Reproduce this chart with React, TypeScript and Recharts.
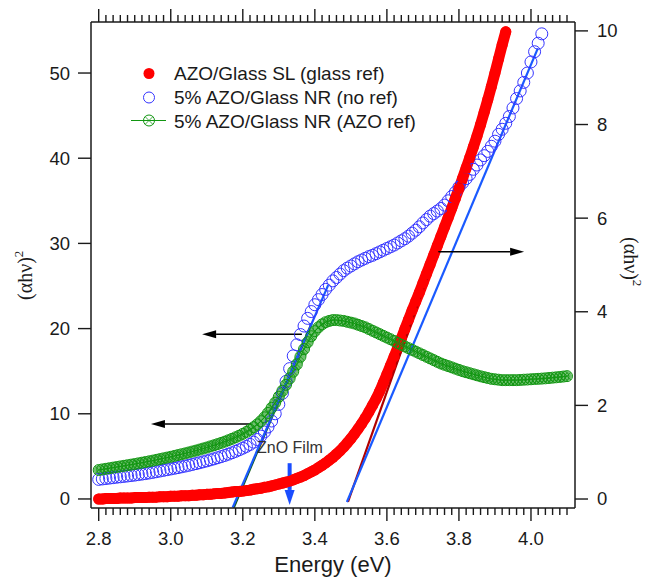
import React from "react";
import {
  ComposedChart,
  Line,
  XAxis,
  YAxis,
  ReferenceLine,
} from "recharts";

// photon energy grid (eV)
const energy = [
  2.8, 2.81, 2.82, 2.83, 2.84, 2.85, 2.86, 2.87, 2.88, 2.89,
  2.9, 2.91, 2.92, 2.93, 2.94, 2.95, 2.96, 2.97, 2.98, 2.99,
  3.0, 3.01, 3.02, 3.03, 3.04, 3.05, 3.06, 3.07, 3.08, 3.09,
  3.1, 3.11, 3.12, 3.13, 3.14, 3.15, 3.16, 3.17, 3.18, 3.19,
  3.2, 3.21, 3.22, 3.23, 3.24, 3.25, 3.26, 3.27, 3.28, 3.29,
  3.3, 3.31, 3.32, 3.33, 3.34, 3.35, 3.36, 3.37, 3.38, 3.39,
  3.4, 3.41, 3.42, 3.43, 3.44, 3.45, 3.46, 3.47, 3.48, 3.49,
  3.5, 3.51, 3.52, 3.53, 3.54, 3.55, 3.56, 3.57, 3.58, 3.59,
  3.6, 3.61, 3.62, 3.63, 3.64, 3.65, 3.66, 3.67, 3.68, 3.69,
  3.7, 3.71, 3.72, 3.73, 3.74, 3.75, 3.76, 3.77, 3.78, 3.79,
  3.8, 3.81, 3.82, 3.83, 3.84, 3.85, 3.86, 3.87, 3.88, 3.89,
  3.9, 3.91, 3.92, 3.93, 3.94, 3.95, 3.96, 3.97, 3.98, 3.99,
  4.0, 4.01, 4.02, 4.03, 4.04, 4.05, 4.06, 4.07, 4.08, 4.09, 4.1,
];

// AZO/Glass SL (glass ref), right axis
const azoSL = [
  0.0, 0.0, 0.01, 0.01, 0.01, 0.01, 0.02, 0.02, 0.02, 0.02,
  0.03, 0.03, 0.03, 0.03, 0.04, 0.04, 0.04, 0.05, 0.05, 0.05,
  0.06, 0.06, 0.06, 0.07, 0.07, 0.07, 0.08, 0.08, 0.09, 0.09,
  0.1, 0.1, 0.11, 0.12, 0.12, 0.13, 0.14, 0.15, 0.16, 0.16,
  0.17, 0.18, 0.19, 0.21, 0.22, 0.23, 0.25, 0.26, 0.28, 0.3,
  0.32, 0.34, 0.36, 0.38, 0.41, 0.44, 0.47, 0.5, 0.54, 0.58,
  0.62, 0.67, 0.72, 0.77, 0.83, 0.89, 0.96, 1.03, 1.11, 1.2,
  1.29, 1.39, 1.5, 1.61, 1.73, 1.86, 2.0, 2.14, 2.3, 2.48,
  2.66, 2.85, 3.04, 3.23, 3.43, 3.63, 3.83, 4.03, 4.22, 4.41,
  4.61, 4.81, 5.01, 5.21, 5.41, 5.61, 5.81, 6.01, 6.21, 6.42,
  6.63, 6.85, 7.07, 7.29, 7.52, 7.75, 8.0, 8.26, 8.53, 8.81,
  9.1, 9.4, 9.7, 9.98,
];

// 5% AZO/Glass NR (no ref), left axis
const nrNoRef = [
  2.3, 2.35, 2.4, 2.45, 2.5, 2.55, 2.6, 2.65, 2.7, 2.75,
  2.8, 2.86, 2.92, 2.98, 3.05, 3.12, 3.2, 3.28, 3.36, 3.44,
  3.52, 3.6, 3.68, 3.77, 3.86, 3.95, 4.05, 4.15, 4.25, 4.36,
  4.47, 4.59, 4.71, 4.84, 4.97, 5.11, 5.26, 5.42, 5.59, 5.77,
  5.96, 6.17, 6.4, 6.67, 6.98, 7.38, 7.86, 8.45, 9.15, 10.0,
  11.1, 12.4, 13.8, 15.3, 16.8, 18.1, 19.3, 20.3, 21.2, 22.0,
  22.8, 23.4, 24.0, 24.6, 25.1, 25.6, 26.0, 26.4, 26.8, 27.1,
  27.35, 27.6, 27.85, 28.05, 28.25, 28.45, 28.6, 28.8, 29.0, 29.2,
  29.4, 29.6, 29.8, 30.05, 30.3, 30.55, 30.85, 31.2, 31.55, 31.95,
  32.4, 32.8, 33.2, 33.5, 33.8, 34.1, 34.5, 35.0, 35.5, 36.0,
  36.6, 37.1, 37.6, 38.1, 38.7, 39.2, 39.8, 40.3, 40.8, 41.4,
  42.0, 42.8, 43.4, 44.1, 44.9, 45.9, 47.0, 47.9, 48.9, 50.0,
  51.3, 52.5, 53.5, 54.6,
];

// 5% AZO/Glass NR (AZO ref), left axis
const nrAzoRef = [
  3.4, 3.47, 3.54, 3.61, 3.68, 3.75, 3.82, 3.89, 3.96, 4.03,
  4.1, 4.18, 4.26, 4.34, 4.42, 4.5, 4.59, 4.68, 4.77, 4.86,
  4.95, 5.05, 5.15, 5.25, 5.35, 5.46, 5.57, 5.68, 5.8, 5.92,
  6.04, 6.17, 6.3, 6.44, 6.58, 6.73, 6.89, 7.06, 7.24, 7.43,
  7.64, 7.87, 8.13, 8.42, 8.75, 9.13, 9.58, 10.1, 10.7, 11.3,
  12.0, 12.7, 13.4, 14.15, 14.95, 15.8, 16.7, 17.6, 18.4, 19.1,
  19.7, 20.15, 20.5, 20.75, 20.9, 21.0, 21.0, 20.95, 20.9, 20.8,
  20.7, 20.6, 20.45, 20.3, 20.15, 19.95, 19.75, 19.55, 19.35, 19.15,
  18.95, 18.75, 18.55, 18.3, 18.1, 17.9, 17.7, 17.5, 17.3, 17.1,
  16.9, 16.7, 16.5, 16.3, 16.1, 15.9, 15.75, 15.6, 15.45, 15.3,
  15.15, 15.0, 14.88, 14.76, 14.64, 14.52, 14.4, 14.3, 14.2, 14.1,
  14.05, 14.0, 13.95, 13.95, 13.95, 13.95, 13.95, 13.97, 14.0, 14.02,
  14.05, 14.08, 14.1, 14.13, 14.16, 14.2, 14.24, 14.28, 14.32, 14.37, 14.42,
];

// linear fits (Tauc extrapolation)
const fitNrAzoE = [3.175, 3.391];
const fitNrAzoV = [-1.0, 20.6];
const fitNrNoRefLowE = [3.172, 3.437];
const fitNrNoRefLowV = [-1.0, 25.1];
const fitNrNoRefHighE = [3.489, 4.019];
const fitNrNoRefHighV = [-0.35, 52.9];
const fitSLE = [3.492, 3.83];
const fitSLV = [-0.06, 7.3];

const xTicks = [
  2.8, 2.82, 2.84, 2.86, 2.88, 2.9, 2.92, 2.94, 2.96, 2.98,
  3.0, 3.02, 3.04, 3.06, 3.08, 3.1, 3.12, 3.14, 3.16, 3.18,
  3.2, 3.22, 3.24, 3.26, 3.28, 3.3, 3.32, 3.34, 3.36, 3.38,
  3.4, 3.42, 3.44, 3.46, 3.48, 3.5, 3.52, 3.54, 3.56, 3.58,
  3.6, 3.62, 3.64, 3.66, 3.68, 3.7, 3.72, 3.74, 3.76, 3.78,
  3.8, 3.82, 3.84, 3.86, 3.88, 3.9, 3.92, 3.94, 3.96, 3.98,
  4.0, 4.02, 4.04, 4.06, 4.08, 4.1,
];
const leftTicks = [0, 10, 20, 30, 40, 50];
const rightTicks = [0, 2, 4, 6, 8, 10];

// annotation arrows: [x1, x2, y] in data units
const arrowToLeftHigh = [3.364, 3.087, 19.34];
const arrowToLeftLow = [3.223, 2.945, 8.79];
const arrowToRight = [3.742, 3.981, 5.28];
const znoFilmArrow = [3.33, 4.2, -0.7];

const RED = "#ff0000";
const BLUE = "#3434ff";
const GREEN = "#119611";
const FIT_BLUE = "#1a5aff";
const FIT_GREEN = "#0c5a16";
const FIT_RED = "#b00000";
const INK = "#1a1a1a";
const SANS = "Liberation Sans, Arial, sans-serif";
const SERIF = "Liberation Serif, Times New Roman, serif";

const zip = (xs: number[], vs: number[]) => vs.map((v, i) => ({ e: xs[i], v }));

const slData = zip(energy, azoSL);
const noRefData = zip(energy, nrNoRef);
const azoRefData = zip(energy, nrAzoRef);

const isMajor = (v: number) => Math.round(v * 100) % 20 === 0;

const BottomTick = (p: any) => {
  const v = p.payload.value;
  const major = isMajor(v);
  return (
    <g>
      <line x1={p.x} x2={p.x} y1={p.y} y2={p.y + (major ? 13 : 7)} stroke={INK} strokeWidth={1.4} />
      {major && v <= 4.0 && (
        <text x={p.x} y={p.y + 37} textAnchor="middle" fontFamily={SANS} fontSize={18.5} fill={INK}>
          {v.toFixed(1)}
        </text>
      )}
    </g>
  );
};

const TopTick = (p: any) => {
  const major = isMajor(p.payload.value);
  return <line x1={p.x} x2={p.x} y1={p.y} y2={p.y - (major ? 13 : 7)} stroke={INK} strokeWidth={1.4} />;
};

const LeftTick = (p: any) => (
  <g>
    <line x1={p.x - 13} x2={p.x} y1={p.y} y2={p.y} stroke={INK} strokeWidth={1.4} />
    <text x={p.x - 21} y={p.y} dy="0.35em" textAnchor="end" fontFamily={SANS} fontSize={18.5} fill={INK}>
      {p.payload.value}
    </text>
  </g>
);

const RightTick = (p: any) => (
  <g>
    <line x1={p.x} x2={p.x + 13} y1={p.y} y2={p.y} stroke={INK} strokeWidth={1.4} />
    <text x={p.x + 22} y={p.y} dy="0.35em" textAnchor="start" fontFamily={SANS} fontSize={18.5} fill={INK}>
      {p.payload.value}
    </text>
  </g>
);

const redDot = (p: any) =>
  p.cx == null ? <g key={p.index} /> : <circle key={p.index} cx={p.cx} cy={p.cy} r={5.5} fill={RED} />;

const blueDot = (p: any) =>
  p.cx == null ? (
    <g key={p.index} />
  ) : (
    <circle key={p.index} cx={p.cx} cy={p.cy} r={6} fill="none" stroke={BLUE} strokeWidth={1} />
  );

const crossCircle = (cx: number, cy: number, r: number, key?: any) => {
  const d = r * 0.707;
  return (
    <g key={key}>
      <circle cx={cx} cy={cy} r={r} fill="none" stroke={GREEN} strokeWidth={1} />
      <path
        d={`M${cx - d},${cy - d}L${cx + d},${cy + d}M${cx - d},${cy + d}L${cx + d},${cy - d}`}
        stroke={GREEN}
        strokeWidth={0.8}
      />
    </g>
  );
};

const greenDot = (p: any) => (p.cx == null ? <g key={p.index} /> : crossCircle(p.cx, p.cy, 5.5, p.index));

const arrowShape = (color: string, width: number, headLen: number, headHalf: number) => (p: any) => {
  const { x1, y1, x2, y2 } = p;
  const len = Math.hypot(x2 - x1, y2 - y1) || 1;
  const ux = (x2 - x1) / len;
  const uy = (y2 - y1) / len;
  const bx = x2 - ux * headLen;
  const by = y2 - uy * headLen;
  return (
    <g>
      <line x1={x1} y1={y1} x2={bx} y2={by} stroke={color} strokeWidth={width} />
      <polygon
        points={`${x2},${y2} ${bx - uy * headHalf},${by + ux * headHalf} ${bx + uy * headHalf},${by - ux * headHalf}`}
        fill={color}
      />
    </g>
  );
};

const blackArrow = arrowShape("#000", 1.5, 14, 4);
const blueArrow = arrowShape("#1a4dff", 4, 15, 5);

export default function App() {
  return (
    <div style={{ position: "absolute", left: 0, top: 0, width: 646, height: 580, background: "#fff" }}>
      <ComposedChart width={646} height={580} margin={{ top: 2, right: 11, bottom: 32, left: 31 }}>
        <XAxis
          xAxisId="bottom"
          dataKey="e"
          type="number"
          domain={[2.7786, 4.1222]}
          allowDataOverflow
          ticks={xTicks}
          interval={0}
          tickSize={0}
          tickMargin={0}
          tickLine={false}
          tick={BottomTick}
          height={40}
          axisLine={{ stroke: INK, strokeWidth: 1.5 }}
        />
        <XAxis
          xAxisId="top"
          orientation="top"
          dataKey="e"
          type="number"
          domain={[2.7786, 4.1222]}
          allowDataOverflow
          ticks={xTicks}
          interval={0}
          tickSize={0}
          tickMargin={0}
          tickLine={false}
          tick={TopTick}
          height={20}
          axisLine={{ stroke: INK, strokeWidth: 1.5 }}
        />
        <YAxis
          yAxisId="left"
          type="number"
          domain={[-1.06, 55.99]}
          allowDataOverflow
          ticks={leftTicks}
          interval={0}
          tickSize={0}
          tickMargin={0}
          tickLine={false}
          tick={LeftTick}
          width={60}
          axisLine={{ stroke: INK, strokeWidth: 1.5 }}
        />
        <YAxis
          yAxisId="right"
          orientation="right"
          type="number"
          domain={[-0.192, 10.19]}
          allowDataOverflow
          ticks={rightTicks}
          interval={0}
          tickSize={0}
          tickMargin={0}
          tickLine={false}
          tick={RightTick}
          width={60}
          axisLine={{ stroke: INK, strokeWidth: 1.5 }}
        />

        <Line
          xAxisId="bottom"
          yAxisId="left"
          data={noRefData}
          dataKey="v"
          stroke="none"
          dot={blueDot}
          activeDot={false}
          isAnimationActive={false}
        />
        {/* dense red markers: thick band through the points plus the dots */}
        <Line
          xAxisId="bottom"
          yAxisId="right"
          data={slData}
          dataKey="v"
          stroke={RED}
          strokeWidth={11}
          strokeLinecap="round"
          strokeLinejoin="round"
          dot={redDot}
          activeDot={false}
          isAnimationActive={false}
        />
        <Line
          xAxisId="bottom"
          yAxisId="left"
          data={azoRefData}
          dataKey="v"
          stroke={GREEN}
          strokeOpacity={0.6}
          strokeWidth={10}
          strokeLinecap="round"
          strokeLinejoin="round"
          dot={false}
          activeDot={false}
          isAnimationActive={false}
        />
        <Line
          xAxisId="bottom"
          yAxisId="left"
          data={azoRefData}
          dataKey="v"
          stroke={GREEN}
          strokeWidth={1}
          dot={greenDot}
          activeDot={false}
          isAnimationActive={false}
        />

        <Line
          xAxisId="bottom"
          yAxisId="left"
          data={zip(fitNrAzoE, fitNrAzoV)}
          dataKey="v"
          stroke={FIT_GREEN}
          strokeWidth={2.2}
          dot={false}
          activeDot={false}
          isAnimationActive={false}
        />
        <Line
          xAxisId="bottom"
          yAxisId="left"
          data={zip(fitNrNoRefLowE, fitNrNoRefLowV)}
          dataKey="v"
          stroke={FIT_BLUE}
          strokeWidth={2.2}
          dot={false}
          activeDot={false}
          isAnimationActive={false}
        />
        <Line
          xAxisId="bottom"
          yAxisId="right"
          data={zip(fitSLE, fitSLV)}
          dataKey="v"
          stroke={FIT_RED}
          strokeWidth={2.2}
          dot={false}
          activeDot={false}
          isAnimationActive={false}
        />
        <Line
          xAxisId="bottom"
          yAxisId="left"
          data={zip(fitNrNoRefHighE, fitNrNoRefHighV)}
          dataKey="v"
          stroke={FIT_BLUE}
          strokeWidth={2.2}
          dot={false}
          activeDot={false}
          isAnimationActive={false}
        />

        <ReferenceLine
          xAxisId="bottom"
          yAxisId="left"
          ifOverflow="visible"
          segment={[
            { x: arrowToLeftHigh[0], y: arrowToLeftHigh[2] },
            { x: arrowToLeftHigh[1], y: arrowToLeftHigh[2] },
          ]}
          shape={blackArrow}
        />
        <ReferenceLine
          xAxisId="bottom"
          yAxisId="left"
          ifOverflow="visible"
          segment={[
            { x: arrowToLeftLow[0], y: arrowToLeftLow[2] },
            { x: arrowToLeftLow[1], y: arrowToLeftLow[2] },
          ]}
          shape={blackArrow}
        />
        <ReferenceLine
          xAxisId="bottom"
          yAxisId="right"
          ifOverflow="visible"
          segment={[
            { x: arrowToRight[0], y: arrowToRight[2] },
            { x: arrowToRight[1], y: arrowToRight[2] },
          ]}
          shape={blackArrow}
        />
        <ReferenceLine
          xAxisId="bottom"
          yAxisId="left"
          ifOverflow="visible"
          segment={[
            { x: znoFilmArrow[0], y: znoFilmArrow[1] },
            { x: znoFilmArrow[0], y: znoFilmArrow[2] },
          ]}
          shape={blueArrow}
        />
      </ComposedChart>

      <svg
        width={646}
        height={580}
        style={{ position: "absolute", left: 0, top: 0, pointerEvents: "none" }}
      >
        {/* legend */}
        <circle cx={149} cy={73.5} r={5.5} fill={RED} />
        <text x={174} y={80} fontFamily={SANS} fontSize={19} fill={INK}>
          AZO/Glass SL (glass ref)
        </text>
        <circle cx={149} cy={97.5} r={5.5} fill="none" stroke={BLUE} strokeWidth={1} />
        <text x={174} y={104} fontFamily={SANS} fontSize={19} fill={INK}>
          5% AZO/Glass NR (no ref)
        </text>
        <line x1={131} x2={166} y1={120.5} y2={120.5} stroke={GREEN} strokeWidth={1.2} />
        {crossCircle(149, 120.5, 5.5)}
        <text x={174} y={127.5} fontFamily={SANS} fontSize={19} fill={INK}>
          5% AZO/Glass NR (AZO ref)
        </text>

        <text x={257} y={453} fontFamily={SANS} fontSize={16} fill="#333">
          ZnO Film
        </text>

        {/* axis titles */}
        <text x={333} y={572} textAnchor="middle" fontFamily={SANS} fontSize={22} fill={INK}>
          Energy (eV)
        </text>
        <text transform="translate(32,300) rotate(-90)" fontFamily={SERIF} fontSize={20} fill={INK}>
          (αhν)
          <tspan dy={-9} fontSize={13}>
            2
          </tspan>
        </text>
        <text transform="translate(624,237) rotate(90)" fontFamily={SERIF} fontSize={20} fill={INK}>
          (αhν)
          <tspan dy={-9} fontSize={13}>
            2
          </tspan>
        </text>
      </svg>
    </div>
  );
}
